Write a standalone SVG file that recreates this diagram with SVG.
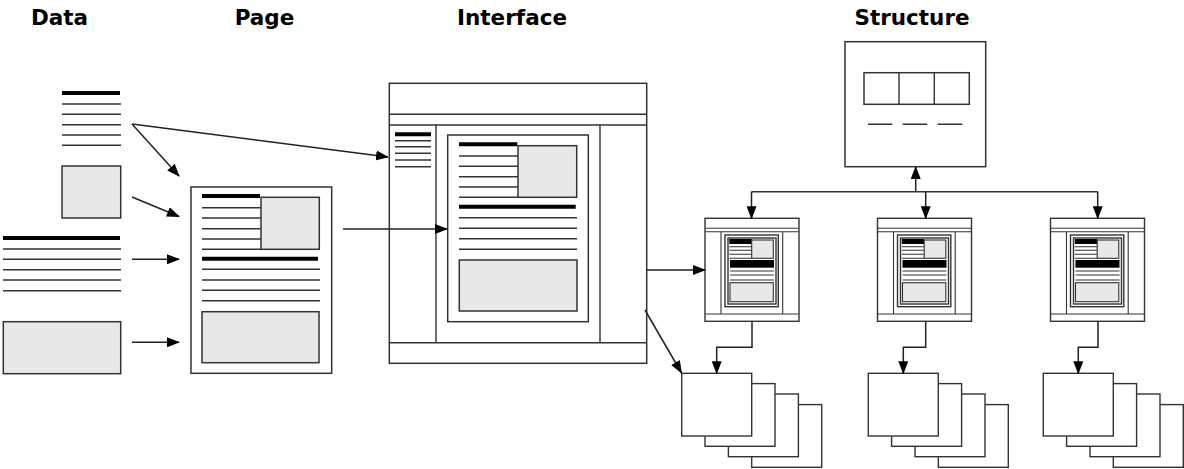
<svg xmlns="http://www.w3.org/2000/svg" xmlns:xlink="http://www.w3.org/1999/xlink" width="1184" height="469" viewBox="0 0 1184 469">
<style>
.ttl{font-family:"DejaVu Sans",Verdana,sans-serif;font-weight:bold;font-size:21.5px;fill:#000;text-anchor:middle}
.box{fill:#fff;stroke:#333;stroke-width:1.5}
.gray{fill:#e8e8e8;stroke:#333;stroke-width:1.5}
.ln{stroke:#333;stroke-width:1.4;fill:none}
.thk{stroke:#000;stroke-width:4;fill:none}
.con{stroke:#222;stroke-width:1.5;fill:none;marker-end:url(#ah)}
.sl{stroke:#333;stroke-width:1.1;fill:none}
.sb{fill:#000}
.sg{fill:#e8e8e8;stroke:#333;stroke-width:1.1}
.sbox{fill:#fff;stroke:#333;stroke-width:1.4}
</style>
<defs>
<marker id="ah" markerUnits="userSpaceOnUse" markerWidth="13" markerHeight="10" refX="12" refY="5" orient="auto" viewBox="0 0 13 10">
<path d="M0,0 L13,5 L0,10 z" fill="#000"/>
</marker>
<g id="miniIf">
<rect class="sbox" x="0" y="0" width="94" height="103"/>
<path class="sl" d="M0,10 H94 M0,13.4 H94 M0,95.7 H94 M16,13.4 V95.7 M77.7,13.4 V95.7"/>
<rect class="sbox" x="20" y="16.7" width="53.3" height="71.7"/>
<rect class="sbox" x="23" y="19.7" width="48" height="66"/>
<rect class="sb" x="24.3" y="20.7" width="22.4" height="5"/>
<rect class="sg" x="46.7" y="21.7" width="21.6" height="18.3"/>
<path class="sl" d="M24.3,28.4 H46.7 M24.3,32 H46.7 M24.3,36 H46.7 M24.3,40 H46.7"/>
<rect class="sb" x="25" y="41.7" width="44" height="7.7"/>
<path class="sl" d="M25,52.7 H69 M25,56.7 H69 M25,61.7 H69"/>
<rect class="sg" x="25" y="64.4" width="43.3" height="19"/>
</g>
<g id="stack">
<rect class="sbox" x="70" y="31.3" width="70" height="62.7"/>
<rect class="sbox" x="46.7" y="20.7" width="70" height="62.7"/>
<rect class="sbox" x="23.3" y="10.3" width="70" height="62.7"/>
<rect class="sbox" x="0" y="0" width="70" height="62.7"/>
</g>
</defs>
<rect width="1184" height="469" fill="#fff"/>

<g id="titles">
<text class="ttl" x="59.5" y="25">Data</text>
<text class="ttl" x="264.5" y="25">Page</text>
<text class="ttl" x="512" y="25">Interface</text>
<text class="ttl" x="912" y="25">Structure</text>
</g>

<g id="data-text1">
<path class="thk" d="M62,93 H120"/>
<path class="ln" d="M62,104 H121 M62,114.3 H121 M62,124.7 H121 M62,135 H121 M62,145.3 H121"/>
</g>
<g id="data-image1">
<rect class="gray" x="62" y="166" width="58.7" height="52"/>
</g>
<g id="data-text2">
<path class="thk" d="M3,238 H120"/>
<path class="ln" d="M3,249 H121 M3,259.3 H121 M3,269.7 H121 M3,280 H121 M3,290.7 H121"/>
</g>
<g id="data-image2">
<rect class="gray" x="3.3" y="321.7" width="117.4" height="52"/>
</g>

<g id="page">
<rect class="box" x="191" y="187" width="140.7" height="186.3"/>
<path class="thk" d="M202,196 H260"/>
<path class="ln" d="M202,207.7 H261 M202,218 H261 M202,228.7 H261 M202,239 H261 M202,249.3 H261"/>
<rect class="gray" x="261" y="197.3" width="58.3" height="52"/>
<path class="thk" d="M202,258.7 H318"/>
<path class="ln" d="M202,269.3 H320 M202,280 H320 M202,290.3 H320 M202,300.7 H320"/>
<rect class="gray" x="202" y="311.7" width="117" height="51"/>
</g>

<g id="interface">
<rect class="box" x="389.3" y="83.3" width="257.4" height="280"/>
<path class="ln" d="M389.3,114.3 H646.7 M389.3,125 H646.7 M389.3,342.7 H646.7 M436,125 V342.7 M600,125 V342.7"/>
<path class="thk" d="M395,134.3 H431"/>
<path class="ln" d="M395,140.7 H431 M395,146.7 H431 M395,153.3 H431 M395,160 H431 M395,166.7 H431"/>
<rect class="box" x="447.7" y="135" width="140.6" height="186.7"/>
<path class="thk" d="M459,144.3 H517.3"/>
<path class="ln" d="M459,156 H518 M459,166.3 H518 M459,176.7 H518 M459,187 H518 M459,197.3 H518"/>
<rect class="gray" x="518" y="145.7" width="58.7" height="51.6"/>
<path class="thk" d="M459,206.7 H575.7"/>
<path class="ln" d="M459,217.7 H577 M459,228.3 H577 M459,238.7 H577 M459,249.3 H577"/>
<rect class="gray" x="459.3" y="260" width="117.7" height="51"/>
</g>

<g id="structure-map">
<rect class="box" x="845" y="41.7" width="140.7" height="125"/>
<rect class="box" x="864" y="72.7" width="105.3" height="31.6"/>
<path class="ln" d="M899,72.7 V104.3 M934.3,72.7 V104.3"/>
<path class="ln" d="M868,124.3 H892.3 M902.7,124.3 H927.3 M937.7,124.3 H962.3"/>
</g>

<g id="mini-interface-1"><use xlink:href="#miniIf" x="705" y="218.3"/></g>
<g id="mini-interface-2"><use xlink:href="#miniIf" x="877.5" y="218.3"/></g>
<g id="mini-interface-3"><use xlink:href="#miniIf" x="1050.5" y="218.3"/></g>

<g id="pages-1"><use xlink:href="#stack" x="681.7" y="373.3"/></g>
<g id="pages-2"><use xlink:href="#stack" x="868.3" y="373.3"/></g>
<g id="pages-3"><use xlink:href="#stack" x="1043.3" y="373.3"/></g>

<g id="connectors">
<path class="con" d="M132,124 L179,176"/>
<path class="con" d="M132,124 L388,157"/>
<path class="con" d="M132,197 L179,216.5"/>
<path class="con" d="M132,259.3 H179"/>
<path class="con" d="M132,342.3 H179"/>
<path class="con" d="M343,229 H447"/>
<path class="con" d="M647,270 H705"/>
<path class="con" d="M645,310 L681.5,373"/>
<path class="ln" d="M751.5,191.7 H1097.7"/>
<path class="con" d="M915.7,191.7 V167"/>
<path class="con" d="M751.5,191.7 V218.3"/>
<path class="con" d="M925.7,191.7 V218.3"/>
<path class="con" d="M1097.7,191.7 V218.3"/>
<path class="con" d="M752,321.7 V347.3 H716.7 V373.3"/>
<path class="con" d="M925.7,321.7 V347.3 H903.3 V373.3"/>
<path class="con" d="M1098,321.7 V347.3 H1078.3 V373.3"/>
</g>
</svg>
